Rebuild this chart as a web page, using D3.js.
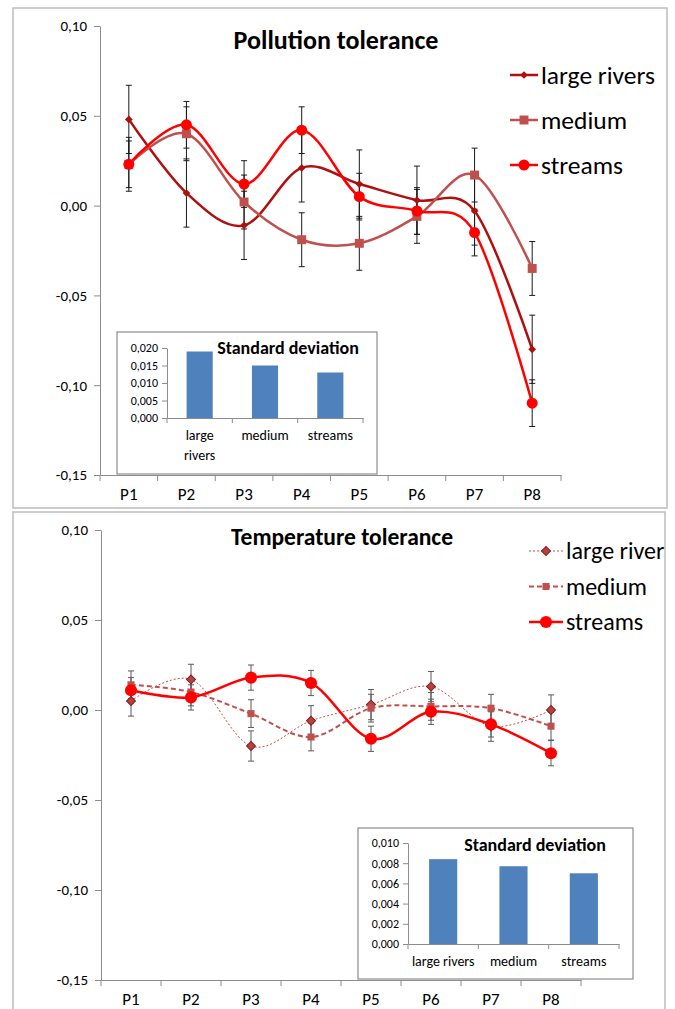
<!DOCTYPE html>
<html>
<head>
<meta charset="utf-8">
<script src="https://cdn.jsdelivr.net/npm/d3@7"></script>
<style>
  body { margin: 0; background: #fff; }
  svg { display: block; }
  text { font-family: Carlito, Lato, sans-serif; fill: #000; }
</style>
</head>
<body>
<div id="chart"></div>
<script>
// Categories and tick values
const points = ["P1", "P2", "P3", "P4", "P5", "P6", "P7", "P8"];
const mainTicks = [-0.15, -0.10, -0.05, 0, 0.05, 0.10];
const sdGroups = ["large rivers", "medium", "streams"];

// Pollution tolerance (means per point)
const pollutionLarge = [0.048, 0.007, -0.011, 0.021, 0.012, 0.003, -0.003, -0.080];
const pollutionMedium = [0.023, 0.040, 0.002, -0.019, -0.021, -0.006, 0.017, -0.035];
const pollutionStreams = [0.023, 0.045, 0.012, 0.042, 0.005, -0.003, -0.015, -0.110];
const pollutionSD = [0.019, 0.015, 0.013];
const pollutionSDTicks = [0, 0.005, 0.010, 0.015, 0.020];

// Temperature tolerance
const tempLarge = [0.005, 0.017, -0.020, -0.006, 0.003, 0.013, -0.009, 0.000];
const tempMedium = [0.014, 0.010, -0.002, -0.015, 0.001, 0.002, 0.001, -0.009];
const tempStreams = [0.011, 0.007, 0.018, 0.015, -0.016, -0.001, -0.008, -0.024];
const tempSD = [0.0084, 0.0077, 0.0070];
const tempSDTicks = [0, 0.002, 0.004, 0.006, 0.008, 0.010];

const svg = d3.select("#chart")
    .append("svg")
        .attr("width", 675)
        .attr("height", 1009);

const loc = d3.formatLocale({decimal: ",", thousands: ".", grouping: [3], currency: ["", ""], minus: "-"});

function styleAxis(a) {
    a.select(".domain").attr("stroke", "#8c8c8c");
    a.selectAll(".tick line").attr("stroke", "#8c8c8c");
}

function drawPanel(p) {
    const g = svg.append("g");

    // outer frame
    g.append("rect")
        .attr("x", p.frame[0]).attr("y", p.frame[1])
        .attr("width", p.frame[2]).attr("height", p.frame[3])
        .attr("fill", "#fff").attr("stroke", "#bdbdbd").attr("stroke-width", 1.5);

    const x = d3.scaleBand().domain(points).range([p.left, p.right]);
    const y = d3.scaleLinear().domain([-0.15, 0.10]).range([p.bottom, p.top]);
    const cx = i => x(points[i]) + x.bandwidth() / 2;

    // y axis
    const ya = g.append("g")
        .attr("transform", `translate(${p.left},0)`)
        .call(d3.axisLeft(y).tickValues(mainTicks).tickFormat(loc.format(".2f")).tickSize(6).tickPadding(7).tickSizeOuter(0));
    ya.selectAll("text").style("font-size", "15px");
    styleAxis(ya);

    // x axis, tick marks sit between categories
    const xa = g.append("g")
        .attr("transform", `translate(0,${p.bottom})`)
        .call(d3.axisBottom(x).tickSize(0).tickPadding(13).tickSizeOuter(0));
    xa.selectAll("text").style("font-size", "17px");
    styleAxis(xa);
    g.append("g").selectAll("line")
        .data(d3.range(points.length + 1))
        .join("line")
            .attr("x1", i => p.left + i * x.step())
            .attr("x2", i => p.left + i * x.step())
            .attr("y1", p.bottom).attr("y2", p.bottom + 6)
            .attr("stroke", "#8c8c8c");

    // title
    g.append("text")
        .attr("x", p.titleX).attr("y", p.titleY)
        .attr("text-anchor", "middle")
        .style("font-size", p.titleFont + "px").style("font-weight", "bold")
        .text(p.title);

    const line = d3.line()
        .x((d, i) => cx(i))
        .y(d => y(d))
        .curve(d3.curveCatmullRom.alpha(0));

    p.series.forEach(s => {
        g.append("path")
            .attr("d", line(s.values))
            .attr("fill", "none")
            .attr("stroke", s.color)
            .attr("stroke-width", s.width)
            .attr("stroke-dasharray", s.dash || null);
    });

    // error bars
    p.series.forEach(s => {
        const eb = g.append("g").attr("stroke", p.errColor).attr("stroke-width", 1);
        s.values.forEach((v, i) => {
            const y1 = y(v + s.sd), y2 = y(v - s.sd);
            eb.append("line").attr("x1", cx(i)).attr("x2", cx(i)).attr("y1", y1).attr("y2", y2);
            eb.append("line").attr("x1", cx(i) - 3).attr("x2", cx(i) + 3).attr("y1", y1).attr("y2", y1);
            eb.append("line").attr("x1", cx(i) - 3).attr("x2", cx(i) + 3).attr("y1", y2).attr("y2", y2);
        });
    });

    // markers
    p.series.forEach(s => {
        g.append("g").selectAll("path")
            .data(s.values)
            .join("path")
                .attr("d", d3.symbol(s.symbol, s.size))
                .attr("transform", (d, i) => `translate(${cx(i)},${y(d)}) rotate(${s.rotate || 0})`)
                .attr("fill", s.markerFill)
                .attr("stroke", s.markerStroke || "none")
                .attr("stroke-width", 1);
    });

    // legend
    p.series.forEach((s, k) => {
        const ly = p.legendY + k * p.legendGap;
        const lg = g.append("g");
        lg.append("line")
            .attr("x1", p.legendX).attr("x2", p.legendX + p.legendLine)
            .attr("y1", ly).attr("y2", ly)
            .attr("stroke", s.color).attr("stroke-width", s.width)
            .attr("stroke-dasharray", s.dash || null);
        lg.append("path")
            .attr("d", d3.symbol(s.symbol, s.size))
            .attr("transform", `translate(${p.legendX + p.legendLine / 2},${ly}) rotate(${s.rotate || 0})`)
            .attr("fill", s.markerFill)
            .attr("stroke", s.markerStroke || "none");
        lg.append("text")
            .attr("x", p.legendX + p.legendLine + 3).attr("y", ly)
            .attr("dy", "0.35em")
            .style("font-size", p.legendFont + "px")
            .text(s.name);
    });

    // inset: standard deviation bars
    const ins = p.inset;
    g.append("rect")
        .attr("x", ins.box[0]).attr("y", ins.box[1])
        .attr("width", ins.box[2]).attr("height", ins.box[3])
        .attr("fill", "#fff").attr("stroke", "#8c8c8c").attr("stroke-width", 1.2);
    const bx = d3.scaleBand().domain(sdGroups).range([ins.left, ins.right]).paddingInner(0.6).paddingOuter(0.3);
    const by = d3.scaleLinear().domain([0, ins.max]).range([ins.bottom, ins.top]);
    const iya = g.append("g")
        .attr("transform", `translate(${ins.left},0)`)
        .call(d3.axisLeft(by).tickValues(ins.ticks).tickFormat(loc.format(".3f")).tickSize(5).tickPadding(4).tickSizeOuter(0));
    iya.selectAll("text").style("font-size", "12px");
    styleAxis(iya);
    const ixa = g.append("g")
        .attr("transform", `translate(0,${ins.bottom})`)
        .call(d3.axisBottom(bx).tickSize(0).tickPadding(ins.labelPad).tickSizeOuter(0));
    ixa.selectAll("text").style("font-size", "14px");
    styleAxis(ixa);
    if (ins.wrap) {
        ixa.selectAll(".tick text").each(function(d) {
            const words = d.split(" ");
            if (words.length < 2) return;
            const t = d3.select(this).text(null);
            words.forEach((w, j) => t.append("tspan").attr("x", 0).attr("dy", j === 0 ? "0.71em" : "1.4em").text(w));
        });
    }
    const step = (ins.right - ins.left) / sdGroups.length;
    g.append("g").selectAll("line")
        .data(d3.range(sdGroups.length + 1))
        .join("line")
            .attr("x1", i => ins.left + i * step).attr("x2", i => ins.left + i * step)
            .attr("y1", ins.bottom).attr("y2", ins.bottom + 5)
            .attr("stroke", "#8c8c8c");
    g.append("g").selectAll("rect")
        .data(ins.values)
        .join("rect")
            .attr("x", (d, i) => bx(sdGroups[i]))
            .attr("width", bx.bandwidth())
            .attr("y", d => by(d))
            .attr("height", d => by(0) - by(d))
            .attr("fill", "#4f81bd");
    g.append("text")
        .attr("x", ins.titleX).attr("y", ins.titleY)
        .attr("text-anchor", "middle")
        .style("font-size", "18px").style("font-weight", "bold")
        .text("Standard deviation");
}

drawPanel({
    frame: [13, 8, 654, 500],
    left: 100, right: 561, top: 26, bottom: 475,
    title: "Pollution tolerance", titleX: 336, titleY: 49, titleFont: 26,
    errColor: "#1a1a1a",
    legendX: 510, legendY: 75, legendGap: 45, legendFont: 25.5, legendLine: 28,
    series: [
        {name: "large rivers", values: pollutionLarge, sd: pollutionSD[0], color: "#b00f0f", width: 2.5,
         symbol: d3.symbolSquare, size: 30, rotate: 45, markerFill: "#b00f0f"},
        {name: "medium", values: pollutionMedium, sd: pollutionSD[1], color: "#c0504d", width: 2.5,
         symbol: d3.symbolSquare, size: 80, markerFill: "#c0504d"},
        {name: "streams", values: pollutionStreams, sd: pollutionSD[2], color: "#ff0000", width: 2.5,
         symbol: d3.symbolCircle, size: 95, markerFill: "#ff0000"}
    ],
    inset: {
        box: [117, 332, 260, 142],
        left: 167, right: 363, top: 348, bottom: 418,
        max: 0.020, ticks: pollutionSDTicks, values: pollutionSD,
        labelPad: 12, wrap: true,
        titleX: 288, titleY: 354
    }
});

drawPanel({
    frame: [13, 512, 652, 520],
    left: 101, right: 581, top: 530, bottom: 980,
    title: "Temperature tolerance", titleX: 342, titleY: 545, titleFont: 23.5,
    errColor: "#595959",
    legendX: 529, legendY: 551, legendGap: 35.5, legendFont: 24, legendLine: 34,
    series: [
        {name: "large river", values: tempLarge, sd: tempSD[0], color: "#c0504d", width: 1, dash: "2,2",
         symbol: d3.symbolSquare, size: 40, rotate: 45, markerFill: "#b84040", markerStroke: "#8b1a1a"},
        {name: "medium", values: tempMedium, sd: tempSD[1], color: "#c0504d", width: 2, dash: "5,3",
         symbol: d3.symbolSquare, size: 50, markerFill: "#c0504d"},
        {name: "streams", values: tempStreams, sd: tempSD[2], color: "#ff0000", width: 2.5,
         symbol: d3.symbolCircle, size: 115, markerFill: "#ff0000"}
    ],
    inset: {
        box: [358, 828, 275, 151],
        left: 408, right: 619, top: 843, bottom: 944,
        max: 0.010, ticks: tempSDTicks, values: tempSD,
        labelPad: 12, wrap: false,
        titleX: 535, titleY: 851
    }
});
</script>
</body>
</html>
